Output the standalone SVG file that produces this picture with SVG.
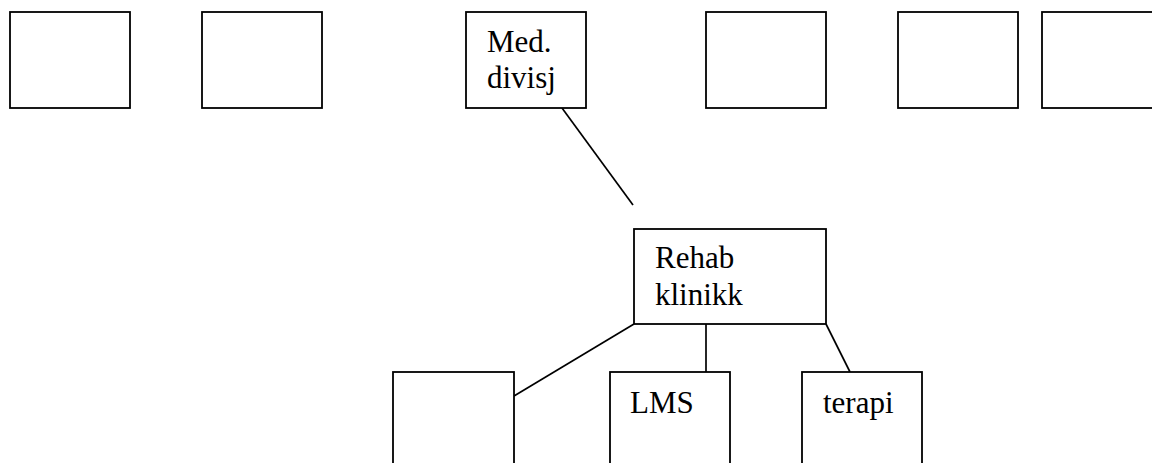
<svg xmlns="http://www.w3.org/2000/svg" width="1152" height="463" viewBox="0 0 1152 463">
<style>
.box{fill:#fff;stroke:#000;stroke-width:1.8}
.ln{stroke:#000;stroke-width:1.7;fill:none}
text{font-family:'Liberation Serif','DejaVu Serif',serif;font-size:31px;fill:#000}
</style>
<rect width="1152" height="463" fill="#fff"/>
<g id="connectors">
<line class="ln" x1="562" y1="108" x2="633" y2="205"/>
<line class="ln" x1="634" y1="324" x2="514" y2="396"/>
<line class="ln" x1="706" y1="324" x2="706" y2="372"/>
<line class="ln" x1="826" y1="324" x2="850" y2="372"/>
</g>
<g id="box1"><rect class="box" x="10" y="12" width="120" height="96"/></g>
<g id="box2"><rect class="box" x="202" y="12" width="120" height="96"/></g>
<g id="med"><rect class="box" x="466" y="12" width="120" height="96"/>
<text x="487" y="52">Med.</text><text x="487" y="88">divisj</text></g>
<g id="box4"><rect class="box" x="706" y="12" width="120" height="96"/></g>
<g id="box5"><rect class="box" x="898" y="12" width="120" height="96"/></g>
<g id="box6"><rect class="box" x="1042" y="12" width="130" height="96"/></g>
<g id="rehab"><rect class="box" x="634" y="229" width="192" height="95"/>
<text x="655" y="268">Rehab</text><text x="655" y="305">klinikk</text></g>
<g id="child1"><rect class="box" x="393" y="372" width="121" height="110"/></g>
<g id="lms"><rect class="box" x="610" y="372" width="120" height="110"/>
<text x="630" y="413">LMS</text></g>
<g id="terapi"><rect class="box" x="802" y="372" width="120" height="110"/>
<text x="823" y="413">terapi</text></g>
</svg>
